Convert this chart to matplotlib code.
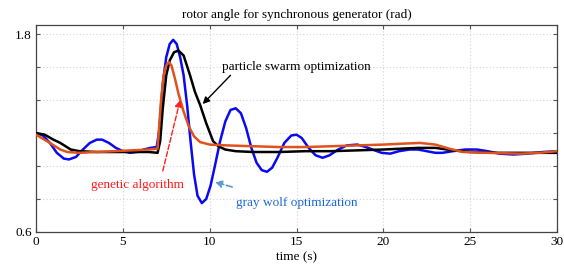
import matplotlib
matplotlib.use("Agg")
from matplotlib import pyplot as plt

# values
t_gwo = [0.0, 0.4, 0.8, 1.2, 1.6, 1.9, 2.3, 2.7, 3.1, 3.5, 3.8, 4.2, 4.6, 5.0, 5.4, 5.8,
         6.2, 6.6, 6.95, 7.1, 7.3, 7.5, 7.7, 7.9, 8.1, 8.3, 8.5, 8.7, 8.9, 9.1, 9.3, 9.55,
         9.8, 10.05, 10.3, 10.6, 10.9, 11.2, 11.5, 11.8, 12.1, 12.4, 12.7, 13.0, 13.3, 13.6,
         13.9, 14.3, 14.7, 15.0, 15.3, 15.7, 16.1, 16.5, 16.9, 17.4, 17.9, 18.5, 19.0, 19.5,
         19.9, 20.4, 20.9, 21.5, 22.0, 22.5, 23.0, 23.4, 24.0, 24.7, 25.4, 26.0, 26.7, 27.5,
         28.3, 29.2, 30.0]
v_gwo = [1.20, 1.185, 1.14, 1.08, 1.045, 1.04, 1.055, 1.10, 1.14, 1.16, 1.16, 1.14, 1.11,
         1.09, 1.08, 1.085, 1.10, 1.11, 1.115, 1.22, 1.50, 1.66, 1.74, 1.765, 1.74, 1.66,
         1.55, 1.37, 1.15, 0.95, 0.82, 0.775, 0.80, 0.88, 1.00, 1.15, 1.27, 1.34, 1.35, 1.32,
         1.23, 1.11, 1.02, 0.975, 0.965, 0.99, 1.05, 1.14, 1.185, 1.19, 1.17, 1.11, 1.065,
         1.05, 1.065, 1.10, 1.125, 1.13, 1.115, 1.095, 1.08, 1.075, 1.09, 1.10, 1.10, 1.09,
         1.08, 1.08, 1.09, 1.10, 1.10, 1.09, 1.075, 1.07, 1.075, 1.085, 1.09]

t_pso = [0.0, 0.5, 1.0, 1.4, 2.0, 2.5, 3.5, 4.5, 5.5, 6.5, 7.0, 7.15, 7.3, 7.5, 7.7, 7.95,
         8.2, 8.5, 8.87, 9.15, 9.45, 9.8, 10.2, 10.5, 10.9, 11.5, 12.5, 14.0, 15.5, 17.0,
         18.5, 20.0, 21.0, 22.0, 23.0, 24.0, 25.0, 26.5, 28.0, 30.0]
v_pso = [1.20, 1.19, 1.16, 1.14, 1.10, 1.09, 1.085, 1.085, 1.085, 1.085, 1.08, 1.15, 1.35,
         1.55, 1.64, 1.69, 1.70, 1.67, 1.55, 1.45, 1.37, 1.26, 1.15, 1.12, 1.10, 1.09, 1.085,
         1.085, 1.09, 1.09, 1.095, 1.10, 1.105, 1.11, 1.11, 1.095, 1.085, 1.08, 1.08, 1.08]

t_ga = [0.0, 0.4, 0.8, 1.4, 1.8, 2.5, 3.5, 4.5, 5.5, 6.5, 7.0, 7.1, 7.2, 7.35, 7.5, 7.65,
        7.8, 8.0, 8.2, 8.5, 8.8, 9.1, 9.45, 10.0, 11.0, 12.5, 14.0, 15.5, 17.0, 18.5, 20.0,
        21.0, 22.1, 23.0, 23.8, 24.6, 26.0, 27.9, 29.0, 30.0]
v_ga = [1.19, 1.165, 1.14, 1.10, 1.085, 1.08, 1.085, 1.09, 1.095, 1.10, 1.105, 1.25, 1.40,
        1.55, 1.61, 1.63, 1.61, 1.53, 1.44, 1.33, 1.24, 1.18, 1.145, 1.13, 1.125, 1.12,
        1.115, 1.115, 1.12, 1.125, 1.13, 1.135, 1.14, 1.13, 1.105, 1.085, 1.08, 1.075,
        1.08, 1.09]

x_ticks = [0, 5, 10, 15, 20, 25, 30]
y_ticks = [0.6, 0.8, 1.0, 1.2, 1.4, 1.6, 1.8]
y_labels = ["0.6", "", "", "", "", "", "1.8"]

plt.rcParams['font.family'] = ['Liberation Serif', 'DejaVu Serif']
fs = 9.5

fig = plt.figure(figsize=(5.64, 2.75), dpi=100)
ax = fig.add_axes([36 / 564, 43 / 275, 521 / 564, 207 / 275])

ax.plot(t_gwo, v_gwo, color='#0a0af0', lw=1.8, zorder=3)
ax.plot(t_pso, v_pso, color='black', lw=1.8, zorder=4)
ax.plot(t_ga, v_ga, color='#e0521c', lw=1.8, zorder=5)

ax.set_xlim(0, 30)
ax.set_ylim(0.6, 1.855)
ax.set_xticks(x_ticks)
ax.set_yticks(y_ticks)
ax.set_yticklabels(y_labels)
ax.tick_params(direction='in', length=3, labelsize=fs, top=True, right=True,
               color='#555555', pad=3)
ax.grid(True, linestyle=(0, (1, 2)), color='#d4d4d4', lw=0.8)
for s in ax.spines.values():
    s.set_color('#444444')
    s.set_linewidth(0.9)

ax.set_title('rotor angle for synchronous generator (rad)', fontsize=fs, pad=5)
ax.set_xlabel('time (s)', fontsize=fs, labelpad=2)

# labels
ax.text(10.7, 1.6, 'particle swarm optimization', fontsize=fs, color='black',
        va='center', ha='left')
ax.text(5.82, 0.885, 'genetic algorithm', fontsize=fs, color='#ff1a1a',
        va='center', ha='center')
ax.text(15.0, 0.776, 'gray wolf optimization', fontsize=fs, color='#1a6ad6',
        va='center', ha='center')

# arrows
ax.annotate('', xy=(9.6, 1.376), xytext=(11.2, 1.55),
            arrowprops=dict(arrowstyle='-|>', color='black', lw=1.0,
                            mutation_scale=10, shrinkA=0, shrinkB=0), zorder=6)
ax.annotate('', xy=(8.3, 1.40), xytext=(7.3, 0.97),
            arrowprops=dict(arrowstyle='-|>', color='#ff2020', lw=1.0, ls='--',
                            mutation_scale=10, shrinkA=0, shrinkB=0), zorder=6)
ax.annotate('', xy=(10.3, 0.903), xytext=(11.3, 0.873),
            arrowprops=dict(arrowstyle='-|>', color='#5b9bd5', lw=1.2, ls='--',
                            mutation_scale=10, shrinkA=0, shrinkB=0), zorder=6)

fig.savefig('out.png', dpi=100)
